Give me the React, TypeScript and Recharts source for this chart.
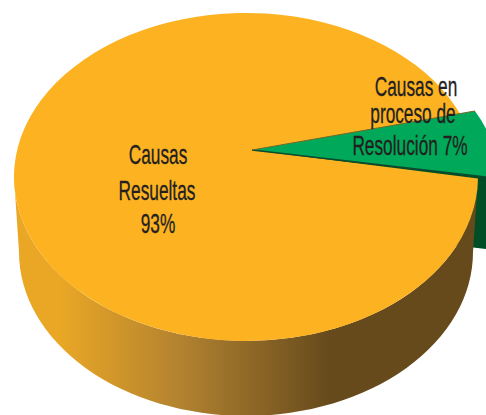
import React from 'react';
import { PieChart, Pie } from 'recharts';

const CATEGORIES = ['Causas en proceso de Resolución', 'Causas Resueltas'];
const VALUES = [7, 93];
const wallData = CATEGORIES.map((name, i) => ({ name, value: VALUES[i] }));
// orange first on the top face, so the green slice lies over it
const topData = [...wallData].reverse();

const ORANGE = '#FDB321';
const GREEN = '#00A859';
const DARK_GREEN = '#004D26';
const INK = '#231F20';
const FONT = '"Liberation Sans", sans-serif';

const APEX = { x: 252, y: 150 };
const ORANGE_RY = 164 / 232;
const GREEN_RX = 252 / 232;
const GREEN_RY = 158 / 232;
const DEPTH = 72;
const ORANGE_OVERLAP = 3;

const rad = (a: number) => (a * Math.PI) / 180;
const onEllipse = (cx: number, cy: number, rx: number, ry: number, a: number) => ({
  x: cx + rx * Math.cos(rad(a)),
  y: cy - ry * Math.sin(rad(a)),
});

function TopSector(props: any) {
  const { cx, cy, outerRadius: r, startAngle, endAngle, name } = props;
  const isGreen = name === CATEGORIES[0];
  const rx = isGreen ? r * GREEN_RX : r;
  const ry = isGreen ? r * GREEN_RY : r * ORANGE_RY;
  // the orange runs on a little under the green so no white shows in the notch
  const start = isGreen ? startAngle : startAngle - ORANGE_OVERLAP;
  const a = onEllipse(cx, cy, rx, ry, start);
  const b = onEllipse(cx, cy, rx, ry, endAngle);
  const large = Math.abs(endAngle - start) > 180 ? 1 : 0;
  return (
    <g>
      <path
        d={`M${APEX.x},${APEX.y} L${a.x},${a.y} A${rx},${ry} 0 ${large} 0 ${b.x},${b.y} Z`}
        fill={isGreen ? GREEN : ORANGE}
      />
      {isGreen && (
        <>
          <path d={`M${APEX.x},${APEX.y} L${a.x},${a.y}`} fill="none" stroke="#0B4A2C" strokeWidth={1.6} />
          <path d={`M${APEX.x},${APEX.y} L${b.x},${b.y}`} fill="none" stroke="#6E6A2B" strokeWidth={1} />
        </>
      )}
    </g>
  );
}

function WallSector(props: any) {
  const { cx, cy, outerRadius: r, startAngle, name } = props;
  if (name === CATEGORIES[0]) {
    const a = onEllipse(cx, cy, r * GREEN_RX, r * GREEN_RY, startAngle);
    return (
      <path
        d={`M${APEX.x},${APEX.y} L${a.x},${a.y} L${a.x},${a.y + DEPTH} L${APEX.x},${APEX.y + DEPTH} Z`}
        fill={DARK_GREEN}
      />
    );
  }
  // side of the orange slice, the lower rim is a bit narrower than the top
  const ry = r * ORANGE_RY;
  const lowRx = r - 5;
  const lowCy = cy + 75;
  return (
    <path
      d={`M${cx - r},${cy} L${cx - lowRx},${lowCy} A${lowRx},${ry} 0 0 0 ${cx + lowRx},${lowCy} L${cx + r},${cy} A${r},${ry} 0 0 1 ${cx - r},${cy} Z`}
      fill="url(#wallGradient)"
    />
  );
}

const LABEL_LINES: Record<string, { text: string; x: number; y: number }[]> = {
  [CATEGORIES[0]]: [
    { text: 'Causas en', x: 416, y: 96 },
    { text: 'proceso de', x: 413, y: 123 },
    { text: 'Resolución 7%', x: 410, y: 155 },
  ],
  [CATEGORIES[1]]: [
    { text: 'Causas', x: 158, y: 164 },
    { text: 'Resueltas', x: 157, y: 200 },
    { text: '93%', x: 158, y: 233 },
  ],
};

const renderLabel = ({ name }: any) => (
  <g>
    {LABEL_LINES[name].map((l) => (
      <text
        key={l.text}
        transform={`translate(${l.x},${l.y}) scale(0.64,1)`}
        textAnchor="middle"
        fill={INK}
        stroke={INK}
        strokeWidth={0.3}
        fontFamily={FONT}
        fontSize={27}
      >
        {l.text}
      </text>
    ))}
  </g>
);

export default function App() {
  return (
    <div style={{ position: 'absolute', left: 0, top: 0, width: 486, height: 415, background: '#fff' }}>
      <PieChart width={486} height={415} margin={{ top: 0, right: 0, bottom: 0, left: 0 }}>
        <defs>
          <linearGradient id="wallGradient" gradientUnits="userSpaceOnUse" x1="60" y1="0" x2="330" y2="0">
            <stop offset="0" stopColor="#E9A725" />
            <stop offset="0.45" stopColor="#B28230" />
            <stop offset="1" stopColor="#664A1C" />
          </linearGradient>
        </defs>
        <Pie
          data={wallData}
          dataKey="value"
          nameKey="name"
          cx={246}
          cy={177}
          outerRadius={232}
          startAngle={-0.5}
          endAngle={359.5}
          stroke="none"
          shape={WallSector}
          isAnimationActive={false}
        />
        <Pie
          data={topData}
          dataKey="value"
          nameKey="name"
          cx={246}
          cy={177}
          outerRadius={232}
          startAngle={24.7}
          endAngle={384.7}
          stroke="none"
          shape={TopSector}
          label={renderLabel}
          labelLine={false}
          isAnimationActive={false}
        />
      </PieChart>
    </div>
  );
}
